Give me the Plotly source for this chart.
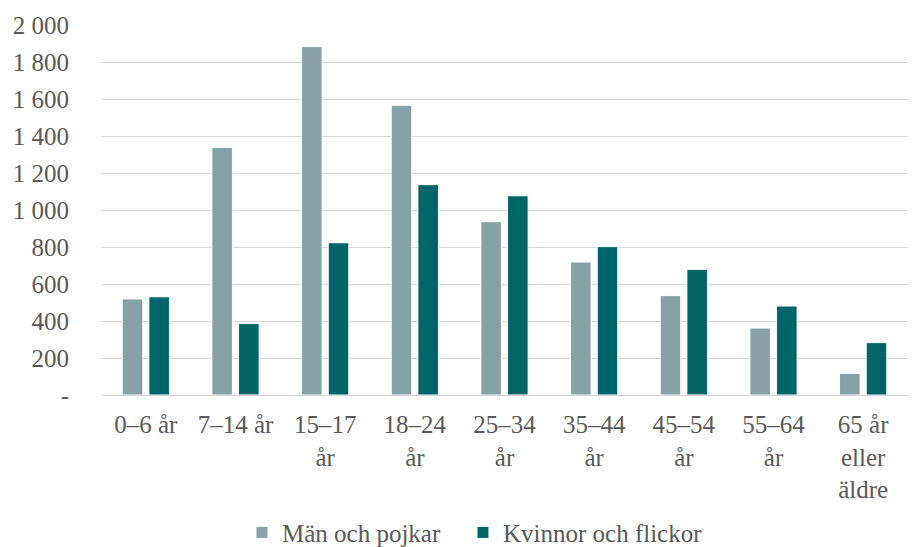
import plotly.graph_objects as go

categories = ["0–6 år", "7–14 år", "15–17<br>år", "18–24<br>år", "25–34<br>år",
              "35–44<br>år", "45–54<br>år", "55–64<br>år", "65 år<br>eller<br>äldre"]
man_pojkar = [519, 1338, 1883, 1566, 937, 719, 537, 362, 117]
kvinnor_flickor = [531, 387, 823, 1137, 1077, 802, 679, 481, 283]
y_tickvals = [0, 200, 400, 600, 800, 1000, 1200, 1400, 1600, 1800, 2000]
y_ticktext = ["-", "200", "400", "600", "800", "1 000", "1 200", "1 400", "1 600", "1 800", "2 000"]

FONT = "Liberation Serif, Times New Roman, serif"
TXT = "#595959"
FS = 25

fig = go.Figure()
fig.add_trace(go.Bar(x=categories, y=man_pojkar, name="Män och pojkar", legendwidth=176,
                     marker=dict(color="#86A2A5", line=dict(color="white", width=1))))
fig.add_trace(go.Bar(x=categories, y=kvinnor_flickor, name="Kvinnor och flickor", legendwidth=210,
                     marker=dict(color="#006568", line=dict(color="white", width=1))))

fig.update_layout(
    width=915, height=547,
    margin=dict(l=101, r=7, t=25, b=152, autoexpand=False),
    paper_bgcolor="white", plot_bgcolor="white",
    barmode="group", bargap=0.405, bargroupgap=0.23,
    font=dict(family=FONT, size=FS, color=TXT),
    legend=dict(orientation="h", x=0.1747, xanchor="left", y=-0.372, yanchor="middle",
                font=dict(family=FONT, size=FS, color=TXT), itemwidth=30),
    showlegend=True,
)
fig.update_xaxes(showgrid=False, showline=False, ticks="outside", ticklen=7, automargin=False,
                 tickcolor="rgba(0,0,0,0)", tickfont=dict(family=FONT, size=FS, color=TXT))
fig.update_yaxes(range=[0, 2000], tickvals=y_tickvals, ticktext=y_ticktext, automargin=False,
                 showgrid=True, gridcolor="#D9D9D9", gridwidth=1.4,
                 zeroline=True, zerolinecolor="#D9D9D9", zerolinewidth=1.4,
                 ticks="outside", ticklen=26, tickcolor="rgba(0,0,0,0)",
                 tickfont=dict(family=FONT, size=FS, color=TXT))

fig.write_html("out.html", config={"displayModeBar": False},
               post_script="document.body.style.margin='0';")
